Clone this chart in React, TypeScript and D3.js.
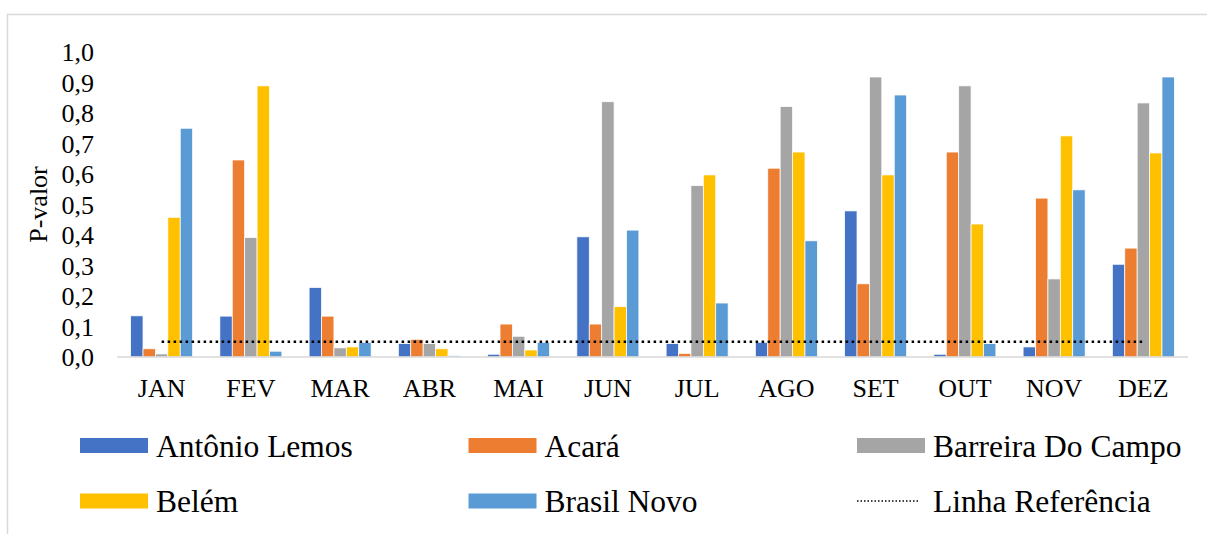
import React from "react";
import * as d3 from "d3";

const months = ["JAN", "FEV", "MAR", "ABR", "MAI", "JUN", "JUL", "AGO", "SET", "OUT", "NOV", "DEZ"];
const antonioLemos = [0.135, 0.134, 0.228, 0.044, 0.009, 0.394, 0.044, 0.048, 0.479, 0.009, 0.033, 0.304];
const acara = [0.027, 0.646, 0.134, 0.058, 0.108, 0.108, 0.012, 0.619, 0.24, 0.672, 0.521, 0.357];
const barreiraDoCampo = [0.01, 0.392, 0.03, 0.044, 0.068, 0.837, 0.562, 0.821, 0.918, 0.889, 0.256, 0.833];
const belem = [0.458, 0.889, 0.033, 0.027, 0.023, 0.165, 0.597, 0.672, 0.597, 0.436, 0.725, 0.669];
const brasilNovo = [0.75, 0.019, 0.048, 0.004, 0.048, 0.416, 0.177, 0.381, 0.859, 0.044, 0.548, 0.918];
const referencia = months.map(() => 0.05);
const yTicks = [0, 0.1, 0.2, 0.3, 0.4, 0.5, 0.6, 0.7, 0.8, 0.9, 1.0];

const seriesNames = ["Antônio Lemos", "Acará", "Barreira Do Campo", "Belém", "Brasil Novo"];
const seriesValues = [antonioLemos, acara, barreiraDoCampo, belem, brasilNovo];
const colors = ["#4472C4", "#ED7D31", "#A5A5A5", "#FFC000", "#5B9BD5"];
const refName = "Linha Referência";

const FONT = "Liberation Serif, Times New Roman, serif";

export default function App() {
  const W = 1207;
  const H = 534;
  const left = 117;
  const right = 1188;
  const y0 = 357;
  const y1 = 52;

  const x = d3.scaleBand<string>().domain(months).range([left, right]).paddingInner(0.305).paddingOuter(0.1525);
  const xs = d3.scaleBand<number>().domain(d3.range(seriesNames.length)).range([0, x.bandwidth()]).padding(0);
  const y = d3.scaleLinear().domain([0, 1]).range([y0, y1]);

  const refLine = d3
    .line<number>()
    .x((_, i) => (x(months[i]) as number) + x.bandwidth() / 2)
    .y((d) => y(d));

  const legendItems = [
    ...seriesNames.map((n, i) => ({ name: n, color: colors[i], line: false })),
    { name: refName, color: "#000", line: true },
  ];
  const legendCols = [80, 468.5, 857];
  const legendRows = [445.5, 501];
  const ts = { fontFamily: FONT };

  return (
    <svg
      width={W}
      height={H}
      style={{ position: "absolute", left: 0, top: 0, background: "#fff", fontFamily: FONT }}
    >
      <rect x={0} y={0} width={W} height={H} fill="#fff" />
      <rect x={7.5} y={14.5} width={W + 20} height={H + 20} fill="none" stroke="#d9d9d9" strokeWidth={1.5} />

      {yTicks.map((t) => (
        <text key={t} x={94} y={y(t)} dy="0.35em" textAnchor="end" fontSize={26} fill="#000" style={ts}>
          {t.toFixed(1).replace(".", ",")}
        </text>
      ))}
      <text
        transform={`translate(38, ${(y0 + y1) / 2}) rotate(-90)`}
        textAnchor="middle"
        dy="0.35em"
        fontSize={26}
        fill="#000"
        style={ts}
      >
        P-valor
      </text>

      {months.map((m, mi) => (
        <g key={m} transform={`translate(${x(m)},0)`}>
          {seriesValues.map((vals, si) => (
            <rect
              key={si}
              x={xs(si)}
              y={y(vals[mi])}
              width={xs.bandwidth()}
              height={y0 - y(vals[mi])}
              fill={colors[si]}
              stroke="#fff"
              strokeWidth={0.75}
            />
          ))}
        </g>
      ))}

      <line x1={left} x2={right} y1={y0} y2={y0} stroke="#d9d9d9" strokeWidth={1.5} />

      <path
        d={refLine(referencia) || ""}
        fill="none"
        stroke="#000"
        strokeWidth={2.5}
        strokeDasharray="2.5 3.5"
      />

      {months.map((m) => (
        <text
          key={m}
          x={(x(m) as number) + x.bandwidth() / 2}
          y={397}
          textAnchor="middle"
          fontSize={26}
          fill="#000"
          style={ts}
        >
          {m}
        </text>
      ))}

      {legendItems.map((it, i) => {
        const cx = legendCols[i % 3];
        const cy = legendRows[Math.floor(i / 3)];
        return (
          <g key={it.name}>
            {it.line ? (
              <line
                x1={cx}
                x2={cx + 62}
                y1={cy}
                y2={cy}
                stroke="#000"
                strokeWidth={1.5}
                strokeDasharray="1.5 2"
              />
            ) : (
              <rect x={cx} y={cy - 7.5} width={68} height={15} fill={it.color} />
            )}
            <text x={cx + 76} y={cy + 11} fontSize={31.5} fill="#000" style={ts}>
              {it.name}
            </text>
          </g>
        );
      })}
    </svg>
  );
}
